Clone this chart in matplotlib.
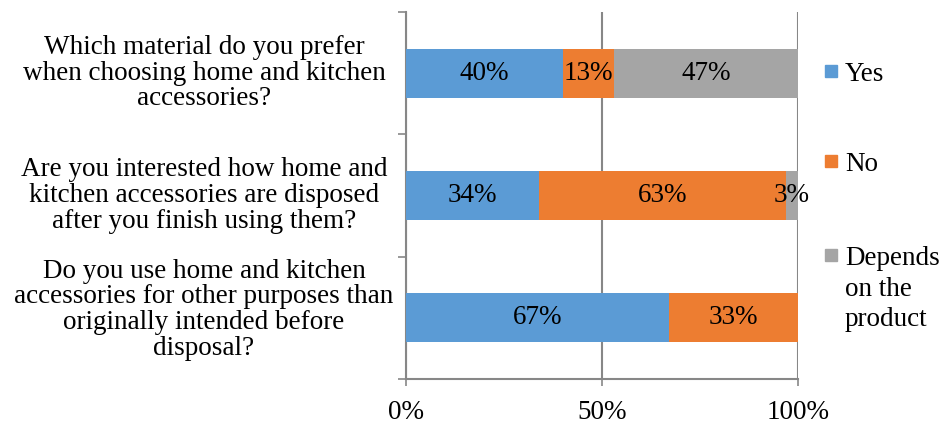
import matplotlib.pyplot as plt
import matplotlib.transforms as mtransforms
from matplotlib.patches import Rectangle

plt.rcParams['font.family'] = ['Liberation Serif', 'DejaVu Serif']

# questions, top to bottom
questions = [
    "Which material do you prefer\nwhen choosing home and kitchen\naccessories?",
    "Are you interested how home and\nkitchen accessories are disposed\nafter you finish using them?",
    "Do you use home and kitchen\naccessories for other purposes than\noriginally intended before\ndisposal?",
]
series_names = ["Yes", "No", "Depends\non the\nproduct"]
yes = [40, 34, 67]
no = [13, 63, 33]
depends = [47, 3, 0]
colors = ["#5B9BD5", "#ED7D31", "#A5A5A5"]
grid_color = "#878787"
fs = 19.5

fig = plt.figure(figsize=(9.41, 4.23), dpi=100)
ax = fig.add_axes([406 / 941, 1 - 379 / 423, 392 / 941, 367 / 423])

ypos = [len(questions) - 1 - i for i in range(len(questions))]
left = [0] * len(questions)
for vals, c in zip([yes, no, depends], colors):
    bars = ax.barh(ypos, vals, left=left, height=0.4, color=c, zorder=3)
    for y, v, l in zip(ypos, vals, left):
        if v > 0:
            ax.text(l + v / 2, y, f"{v}%", ha="center", va="center",
                    fontsize=fs, zorder=4)
    left = [a + b for a, b in zip(left, vals)]

ax.set_xlim(0, 100)
ax.set_ylim(-0.5, len(questions) - 0.5)
ax.set_xticks([0, 50, 100])
ax.set_xticklabels(["0%", "50%", "100%"], fontsize=fs)
ax.xaxis.grid(True, color=grid_color, linewidth=1.5, zorder=0)
ax.tick_params(axis="x", length=5, width=1.2, color=grid_color, pad=10)

# tick marks at category boundaries, labels at centres
ax.set_yticks([-0.5, 0.5, 1.5, 2.5])
ax.set_yticklabels([])
ax.tick_params(axis="y", which="major", length=6, width=1.2, color=grid_color)

# category labels, centred in the left margin
trans = mtransforms.blended_transform_factory(fig.transFigure, ax.transData)
for i, (q, y) in enumerate(zip(questions, ypos)):
    t = trans
    if i == len(questions) - 1:
        # the four-line label sits a bit higher in the original
        t = trans + mtransforms.ScaledTranslation(0, 8 / 100, fig.dpi_scale_trans)
    fig.text(204 / 941, y, q, transform=t, fontsize=fs, ha="center",
             va="center", multialignment="center", linespacing=1.04)

for s in ["top", "right"]:
    ax.spines[s].set_visible(False)
for s in ["left", "bottom"]:
    ax.spines[s].set_color(grid_color)
    ax.spines[s].set_linewidth(1.5)

# legend drawn by hand to keep Excel-like spacing
leg_y = [71, 161, 255]
for name, c, y in zip(series_names, colors, leg_y):
    fy = 1 - y / 423
    fig.add_artist(Rectangle((825 / 941, fy - 6 / 423), 12 / 941, 12 / 423,
                             transform=fig.transFigure, color=c))
    fig.text(845 / 941, fy + 9 / 423, name, fontsize=fs, va="top", ha="left",
             linespacing=1.3)

fig.savefig("out.png", dpi=100)
